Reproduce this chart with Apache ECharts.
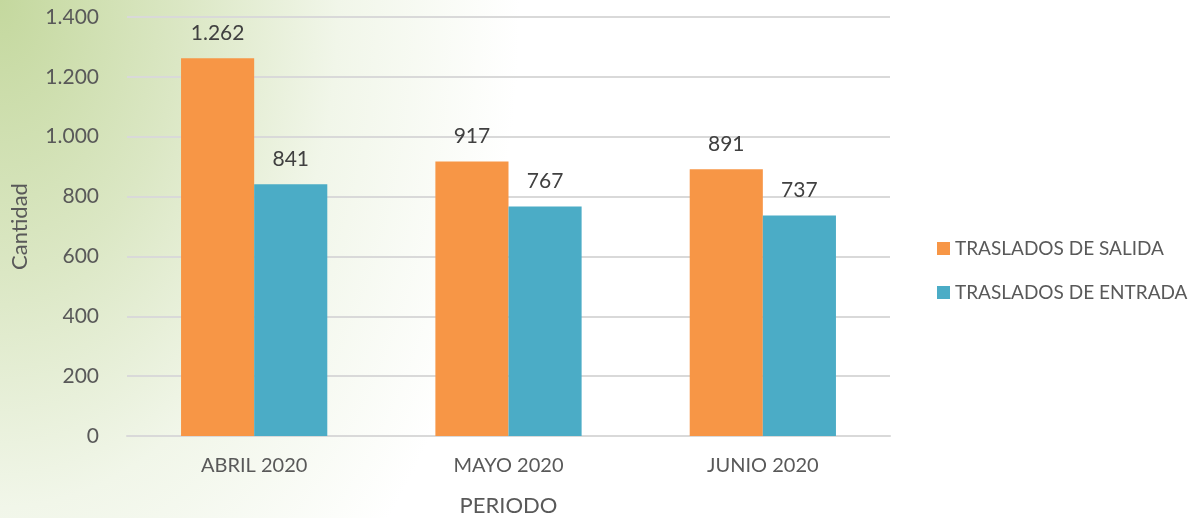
<!DOCTYPE html>
<html>
<head>
<meta charset="utf-8">
<script src="https://cdn.jsdelivr.net/npm/echarts@6/dist/echarts.min.js"></script>
<style>
    html, body { margin: 0; padding: 0; }
    #chart {
        width: 1201px; height: 518px;
        background: radial-gradient(ellipse 520px 780px at 0 0, #c4d89e 0%, #dbe7c4 35%, #f1f6e9 65%, #ffffff 100%);
    }
</style>
</head>
<body>
<div id="chart"></div>
<script>
    // datos
    const periodos = ['ABRIL 2020', 'MAYO 2020', 'JUNIO 2020']
    const salida = [1262, 917, 891]
    const entrada = [841, 767, 737]
    const nombres = ['TRASLADOS DE SALIDA', 'TRASLADOS DE ENTRADA']

    const fmt = v => String(v).replace(/\B(?=(\d{3})+(?!\d))/g, '.')
    const font = 'Lato, "Open Sans", sans-serif'

    let dom = echarts.init(document.getElementById('chart'))
    let option = {
        backgroundColor: 'transparent',
        textStyle: { fontFamily: font },
        grid: {
            left: 127,
            right: 311,
            top: 17,
            bottom: 82,
            containLabel: false,
            outerBoundsMode: 'none'
        },
        legend: {
            orient: 'vertical',
            left: 932,
            top: 234,
            itemWidth: 13,
            itemHeight: 13,
            itemGap: 25,
            icon: 'rect',
            textStyle: { color: '#595959', fontSize: 19, fontFamily: font },
            data: nombres
        },
        xAxis: [{
            type: 'category',
            data: periodos,
            name: 'PERIODO',
            nameLocation: 'middle',
            nameGap: 59,
            nameTextStyle: { color: '#595959', fontSize: 22, fontFamily: font },
            axisLine: { lineStyle: { color: '#d9d9d9', width: 2 } },
            axisTick: false,
            axisLabel: { color: '#595959', fontSize: 20, margin: 20, fontFamily: font }
        }],
        yAxis: [{
            type: 'value',
            min: 0,
            max: 1400,
            interval: 200,
            name: 'Cantidad',
            nameLocation: 'middle',
            nameGap: 96,
            nameTextStyle: { color: '#595959', fontSize: 22, fontFamily: font },
            axisLine: false,
            axisTick: false,
            splitLine: { lineStyle: { color: '#d9d9d9', width: 2 } },
            axisLabel: {
                color: '#595959',
                fontSize: 21,
                margin: 28,
                fontFamily: font,
                formatter: fmt
            }
        }],
        series: [{
            name: nombres[0],
            type: 'bar',
            data: salida,
            barGap: '0%',
            barCategoryGap: '42.5%',
            itemStyle: { color: '#f79646' },
            label: {
                show: true,
                position: 'top',
                distance: 15,
                color: '#404040',
                fontSize: 21,
                fontFamily: font,
                formatter: p => fmt(p.value)
            }
        }, {
            name: nombres[1],
            type: 'bar',
            data: entrada,
            itemStyle: { color: '#4bacc6' },
            label: {
                show: true,
                position: 'top',
                distance: 15,
                color: '#404040',
                fontSize: 21,
                fontFamily: font,
                formatter: p => fmt(p.value)
            }
        }]
    }
    dom.setOption(option)
    window.addEventListener('resize', dom.resize)
</script>
</body>
</html>
